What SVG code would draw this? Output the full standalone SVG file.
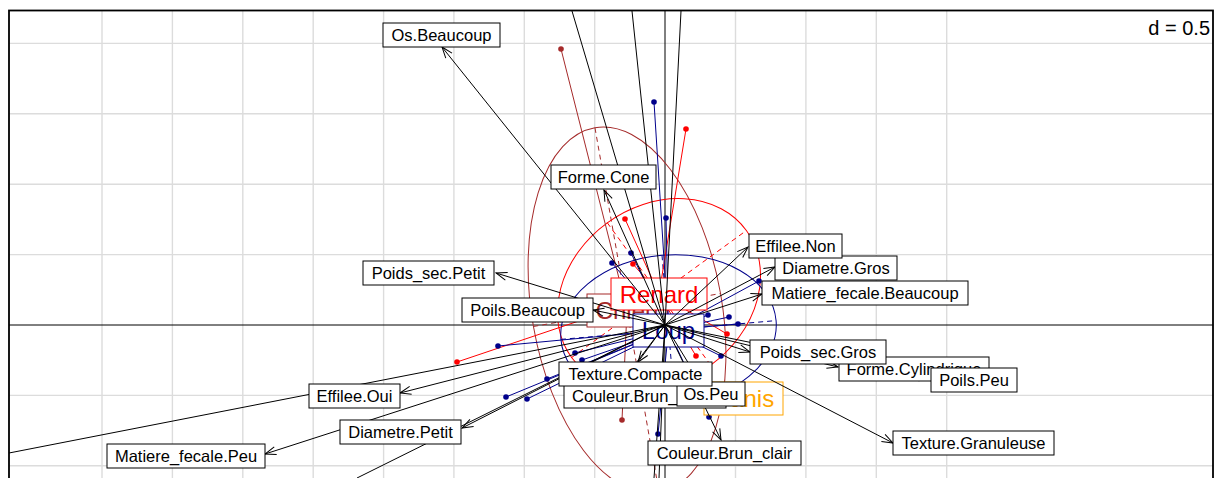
<svg xmlns="http://www.w3.org/2000/svg" width="1218" height="478" viewBox="0 0 1218 478">
<style>
.grid line{stroke:#DCDCDC;stroke-width:1.4}
.axis line{stroke:#000;stroke-width:1}
.arr{stroke:#000;stroke-width:1;fill:none;marker-end:url(#ah)}
.ln{stroke:#000;stroke-width:1;fill:none}
.lbl rect{fill:#fff;stroke:#000;stroke-width:1}
.lbl text{font-family:"Liberation Sans",Arial,sans-serif;font-size:16.5px;text-anchor:middle;fill:#000}
.grp rect{fill:#fff;stroke-width:1}
.grp text{font-family:"Liberation Sans",Arial,sans-serif;font-size:24px;text-anchor:middle}
.ell{fill:none;stroke-width:1}
.dash{stroke-dasharray:5,4;stroke-width:1;fill:none}
.red{stroke:#FF0000}
.navy{stroke:#00008B}
.brown{stroke:#A52A2A}
.star line{stroke-width:1}
.pr{fill:#FF0000}
.pn{fill:#00008B}
.pb{fill:#A52A2A}
</style>
<defs>
<marker id="ah" viewBox="-13 -6 14 12" refX="0" refY="0" markerWidth="14" markerHeight="12" markerUnits="userSpaceOnUse" orient="auto">
<path d="M-11,-4 L0,0 L-11,4" fill="none" stroke="#000" stroke-width="1"/>
</marker>
</defs>
<rect x="0" y="0" width="1218" height="478" fill="#fff"/>
<g class="grid">
<line x1="9" y1="43.4" x2="1213" y2="43.4"/>
<line x1="9" y1="113.8" x2="1213" y2="113.8"/>
<line x1="9" y1="184.2" x2="1213" y2="184.2"/>
<line x1="9" y1="254.6" x2="1213" y2="254.6"/>
<line x1="9" y1="395.4" x2="1213" y2="395.4"/>
<line x1="9" y1="465.8" x2="1213" y2="465.8"/>
<line x1="102" y1="11" x2="102" y2="478"/>
<line x1="172.4" y1="11" x2="172.4" y2="478"/>
<line x1="242.8" y1="11" x2="242.8" y2="478"/>
<line x1="313.2" y1="11" x2="313.2" y2="478"/>
<line x1="383.6" y1="11" x2="383.6" y2="478"/>
<line x1="453.9" y1="11" x2="453.9" y2="478"/>
<line x1="524.3" y1="11" x2="524.3" y2="478"/>
<line x1="594.7" y1="11" x2="594.7" y2="478"/>
<line x1="735.5" y1="11" x2="735.5" y2="478"/>
<line x1="805.9" y1="11" x2="805.9" y2="478"/>
<line x1="876.3" y1="11" x2="876.3" y2="478"/>
<line x1="946.7" y1="11" x2="946.7" y2="478"/>
</g>
<g class="axis">
<line x1="9" y1="325" x2="1213" y2="325"/>
<line x1="665" y1="11" x2="665" y2="478"/>
</g>
<g id="classes">
<g id="ellipses">
<ellipse class="ell brown" cx="627" cy="310" rx="95" ry="185" transform="rotate(-10 627 310)"/>
<line class="dash brown" x1="595" y1="128" x2="659" y2="492"/>
<line class="dash brown" x1="533.4" y1="326.5" x2="720.6" y2="293.5"/>
<ellipse class="ell red" cx="659" cy="294" rx="108" ry="88" transform="rotate(-36 659 294)"/>
<line class="dash red" x1="571.6" y1="357.5" x2="746.4" y2="230.5"/>
<line class="dash red" x1="607.3" y1="222.8" x2="710.7" y2="365.2"/>
<ellipse class="ell navy" cx="668.5" cy="330" rx="108" ry="75" transform="rotate(-5 668.5 330)"/>
<line class="dash navy" x1="560.9" y1="339.4" x2="776.1" y2="320.6"/>
<line class="dash navy" x1="662" y1="255.3" x2="675" y2="404.7"/>
</g>
<g class="star brown">
<line x1="627" y1="310" x2="561" y2="49"/>
<line x1="627" y1="310" x2="622" y2="420"/>
</g>
<g class="star red">
<line x1="659" y1="294" x2="686" y2="129"/>
<line x1="659" y1="294" x2="625" y2="219"/>
<line x1="659" y1="294" x2="633" y2="264"/>
<line x1="659" y1="294" x2="457" y2="362"/>
<line x1="659" y1="294" x2="696" y2="356"/>
<line x1="659" y1="294" x2="727" y2="334"/>
</g>
<g class="star navy">
<line x1="668.5" y1="330" x2="654" y2="102"/>
<line x1="668.5" y1="330" x2="666" y2="218"/>
<line x1="668.5" y1="330" x2="631" y2="253"/>
<line x1="668.5" y1="330" x2="612" y2="263"/>
<line x1="668.5" y1="330" x2="759" y2="281"/>
<line x1="668.5" y1="330" x2="708" y2="315"/>
<line x1="668.5" y1="330" x2="729" y2="317"/>
<line x1="668.5" y1="330" x2="738" y2="324"/>
<line x1="668.5" y1="330" x2="721" y2="356"/>
<line x1="668.5" y1="330" x2="575" y2="353"/>
<line x1="668.5" y1="330" x2="582" y2="360"/>
<line x1="668.5" y1="330" x2="547" y2="379"/>
<line x1="668.5" y1="330" x2="506" y2="397"/>
<line x1="668.5" y1="330" x2="527" y2="399"/>
<line x1="668.5" y1="330" x2="498" y2="346"/>
<line x1="668.5" y1="330" x2="658" y2="434"/>
<line x1="668.5" y1="330" x2="709" y2="417"/>
</g>
<g id="points">
<circle class="pb" cx="561" cy="49" r="2.8"/>
<circle class="pb" cx="622" cy="420" r="2.8"/>
<circle class="pr" cx="686" cy="129" r="2.8"/>
<circle class="pr" cx="625" cy="219" r="2.8"/>
<circle class="pr" cx="633" cy="264" r="2.8"/>
<circle class="pr" cx="457" cy="362" r="2.8"/>
<circle class="pr" cx="696" cy="356" r="2.8"/>
<circle class="pr" cx="727" cy="334" r="2.8"/>
<circle class="pn" cx="654" cy="102" r="2.8"/>
<circle class="pn" cx="666" cy="218" r="2.8"/>
<circle class="pn" cx="631" cy="253" r="2.8"/>
<circle class="pn" cx="612" cy="263" r="2.8"/>
<circle class="pn" cx="759" cy="281" r="2.8"/>
<circle class="pn" cx="708" cy="315" r="2.8"/>
<circle class="pn" cx="729" cy="317" r="2.8"/>
<circle class="pn" cx="738" cy="324" r="2.8"/>
<circle class="pn" cx="721" cy="356" r="2.8"/>
<circle class="pn" cx="575" cy="353" r="2.8"/>
<circle class="pn" cx="582" cy="360" r="2.8"/>
<circle class="pn" cx="547" cy="379" r="2.8"/>
<circle class="pn" cx="506" cy="397" r="2.8"/>
<circle class="pn" cx="527" cy="399" r="2.8"/>
<circle class="pn" cx="498" cy="346" r="2.8"/>
<circle class="pn" cx="658" cy="434" r="2.8"/>
<circle class="pn" cx="709" cy="417" r="2.8"/>
</g>
</g>
<g id="node-Canis" class="grp"><rect x="704" y="382" width="79" height="33" stroke="#FFA500"/><text x="743.5" y="407" fill="#FFA500">Canis</text></g>
<g id="node-Chien" class="grp"><rect x="587" y="294" width="80" height="33" stroke="#A52A2A"/><text x="627" y="319" fill="#A52A2A">Chien</text></g>
<g id="node-Loup" class="grp"><rect x="633" y="314" width="71" height="33" stroke="#00008B"/><text x="668.5" y="339" fill="#00008B">Loup</text></g>
<g id="node-Renard" class="grp"><rect x="611" y="278" width="96" height="32" stroke="#FF0000"/><text x="659" y="302.5" fill="#FF0000">Renard</text></g>
<g id="connectors">
<line class="arr" x1="665" y1="325" x2="721" y2="440"/>
<line class="arr" x1="665" y1="325" x2="620" y2="384"/>
<line class="arr" x1="665" y1="325" x2="775" y2="267"/>
<line class="arr" x1="665" y1="325" x2="462" y2="428"/>
<line class="arr" x1="665" y1="325" x2="748" y2="247"/>
<line class="arr" x1="665" y1="325" x2="400" y2="393"/>
<line class="arr" x1="665" y1="325" x2="604" y2="190"/>
<line class="arr" x1="665" y1="325" x2="838" y2="367"/>
<line class="arr" x1="665" y1="325" x2="762" y2="294"/>
<line class="arr" x1="665" y1="325" x2="265" y2="454"/>
<line class="arr" x1="665" y1="325" x2="442" y2="47"/>
<line class="arr" x1="665" y1="325" x2="700" y2="382"/>
<line class="arr" x1="665" y1="325" x2="750" y2="352"/>
<line class="arr" x1="665" y1="325" x2="496" y2="273"/>
<line class="arr" x1="665" y1="325" x2="593" y2="310"/>
<line class="arr" x1="665" y1="325" x2="930" y2="379"/>
<line class="arr" x1="665" y1="325" x2="638" y2="362"/>
<line class="arr" x1="665" y1="325" x2="893" y2="443"/>
<line class="ln" x1="665" y1="325" x2="572" y2="11"/>
<line class="ln" x1="665" y1="325" x2="632" y2="11"/>
<line class="ln" x1="665" y1="325" x2="681" y2="11"/>
<line class="ln" x1="665" y1="325" x2="9" y2="453"/>
<line class="ln" x1="665" y1="325" x2="357" y2="478"/>
<line class="ln" x1="665" y1="325" x2="654" y2="478"/>
<line class="ln" x1="665" y1="325" x2="659" y2="478"/>
</g>
<g id="node-Couleur.Brun_clair" class="lbl"><rect x="648" y="441" width="153" height="24"/><text x="724.5" y="459">Couleur.Brun_clair</text></g>
<g id="node-Couleur.Brun_fonce" class="lbl"><rect x="564" y="384" width="162" height="24"/><text x="645" y="402">Couleur.Brun_fonce</text></g>
<g id="node-Diametre.Gros" class="lbl"><rect x="775" y="256" width="122" height="24"/><text x="836" y="274">Diametre.Gros</text></g>
<g id="node-Diametre.Petit" class="lbl"><rect x="340" y="420" width="121" height="24"/><text x="400.5" y="438">Diametre.Petit</text></g>
<g id="node-Effilee.Non" class="lbl"><rect x="749" y="234" width="93" height="24"/><text x="795.5" y="252">Effilee.Non</text></g>
<g id="node-Effilee.Oui" class="lbl"><rect x="309" y="384" width="91" height="24"/><text x="354.5" y="402">Effilee.Oui</text></g>
<g id="node-Forme.Cone" class="lbl"><rect x="551" y="165" width="105" height="24"/><text x="603.5" y="183">Forme.Cone</text></g>
<g id="node-Forme.Cylindrique" class="lbl"><rect x="839" y="357" width="150" height="24"/><text x="914" y="375">Forme.Cylindrique</text></g>
<g id="node-Matiere_fecale.Beaucoup" class="lbl"><rect x="762" y="281" width="206" height="24"/><text x="865" y="299">Matiere_fecale.Beaucoup</text></g>
<g id="node-Matiere_fecale.Peu" class="lbl"><rect x="107" y="444" width="158" height="24"/><text x="186" y="462">Matiere_fecale.Peu</text></g>
<g id="node-Os.Beaucoup" class="lbl"><rect x="383" y="23" width="117" height="24"/><text x="441.5" y="41">Os.Beaucoup</text></g>
<g id="node-Os.Peu" class="lbl"><rect x="677" y="382" width="68" height="24"/><text x="711" y="400">Os.Peu</text></g>
<g id="node-Poids_sec.Gros" class="lbl"><rect x="750" y="340" width="136" height="24"/><text x="818" y="358">Poids_sec.Gros</text></g>
<g id="node-Poids_sec.Petit" class="lbl"><rect x="363" y="261" width="131" height="24"/><text x="428.5" y="279">Poids_sec.Petit</text></g>
<g id="node-Poils.Beaucoup" class="lbl"><rect x="462" y="298" width="131" height="24"/><text x="527.5" y="316">Poils.Beaucoup</text></g>
<g id="node-Poils.Peu" class="lbl"><rect x="931" y="368" width="86" height="24"/><text x="974" y="386">Poils.Peu</text></g>
<g id="node-Texture.Compacte" class="lbl"><rect x="559" y="362" width="153" height="24"/><text x="635.5" y="380">Texture.Compacte</text></g>
<g id="node-Texture.Granuleuse" class="lbl"><rect x="893" y="431" width="161" height="24"/><text x="973.5" y="449">Texture.Granuleuse</text></g>
<text x="1210" y="35" font-family="Liberation Sans, Arial, sans-serif" font-size="20" text-anchor="end">d = 0.5</text>
<rect x="9" y="10.5" width="1204" height="480" fill="none" stroke="#000" stroke-width="1.8"/>
</svg>
